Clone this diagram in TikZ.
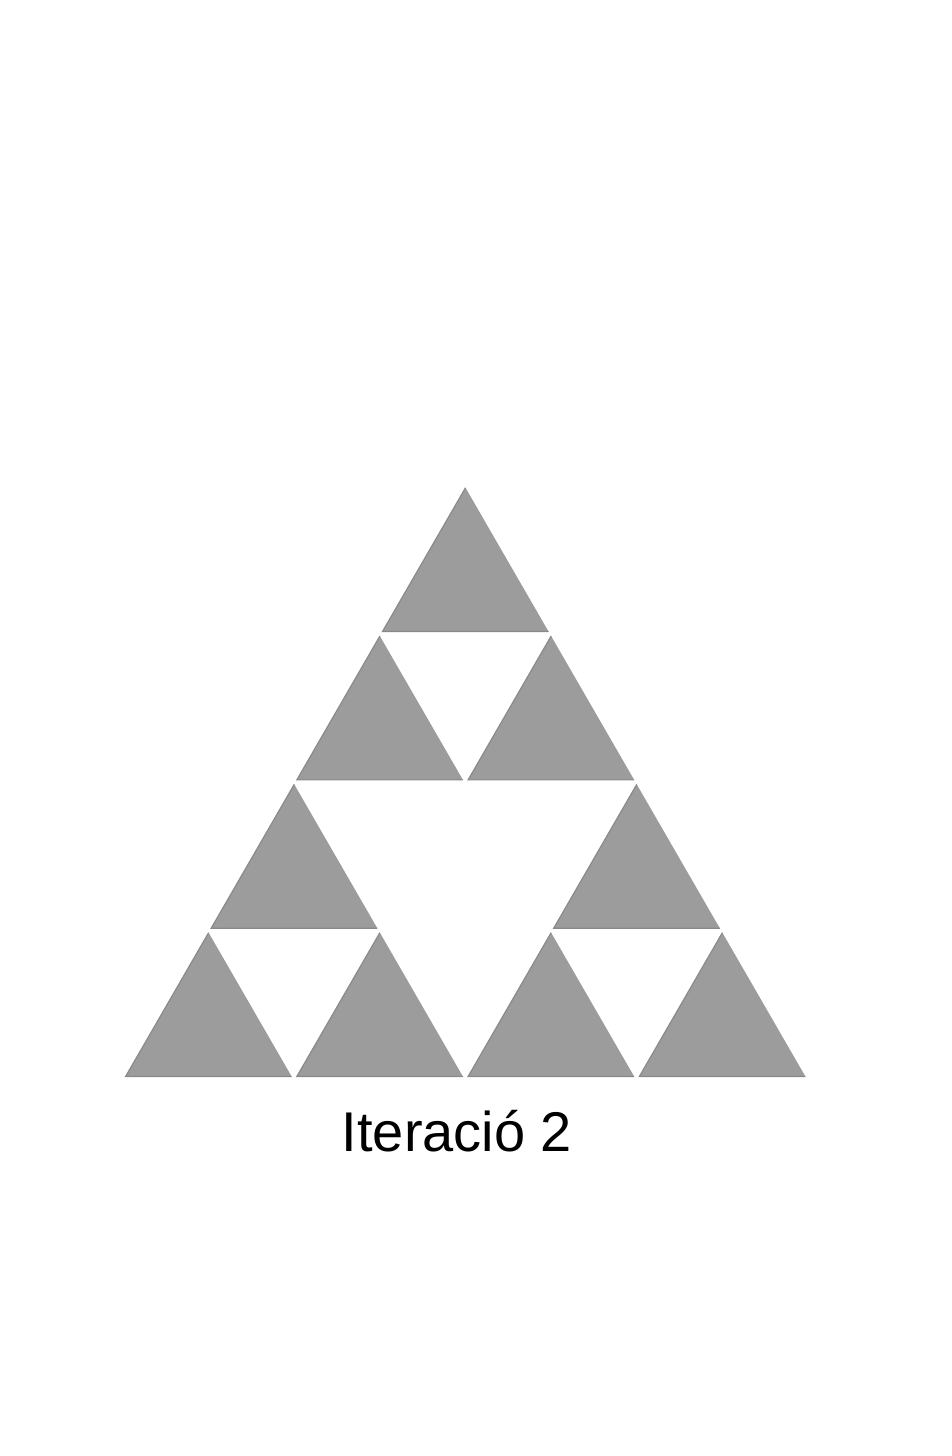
\documentclass[tikz,border=0pt]{standalone}
\usepackage{fontspec}
\setmainfont{Liberation Sans}
\definecolor{trigray}{HTML}{9C9C9C}
\definecolor{edgegray}{HTML}{8A8A8A}
\begin{document}
\begin{tikzpicture}[x=0.5pt,y=-0.5pt,
  tri/.style={fill=trigray},
  triedge/.style={draw=edgegray,line width=0.6pt,line join=miter},
  caption/.style={font=\fontsize{28}{34}\selectfont,anchor=base,inner sep=0pt}]
\useasboundingbox (0,0) rectangle (952,1456);
\fill[white] (0,0) rectangle (952,1456);
\foreach \i/\r in {0/0,1/0,0/1,2/0,3/0,2/1,0/2,1/2,0/3} {
  \pgfmathsetmacro\xa{123+171.25*\i+85.625*\r}
  \pgfmathsetmacro\yb{1078-148.31*\r}
  \coordinate (bl-\i-\r) at (\xa+2.6,\yb-1.5);
  \coordinate (br-\i-\r) at (\xa+171.25-2.6,\yb-1.5);
  \coordinate (ap-\i-\r) at (\xa+85.625,\yb-148.31+3);
  \fill[tri] (bl-\i-\r) -- (br-\i-\r) -- (ap-\i-\r) -- cycle;
  \draw[triedge] (ap-\i-\r) -- (bl-\i-\r) -- (br-\i-\r);
}
\node[caption] (label) at (457,1151) {Iteració 2};
\end{tikzpicture}
\end{document}
